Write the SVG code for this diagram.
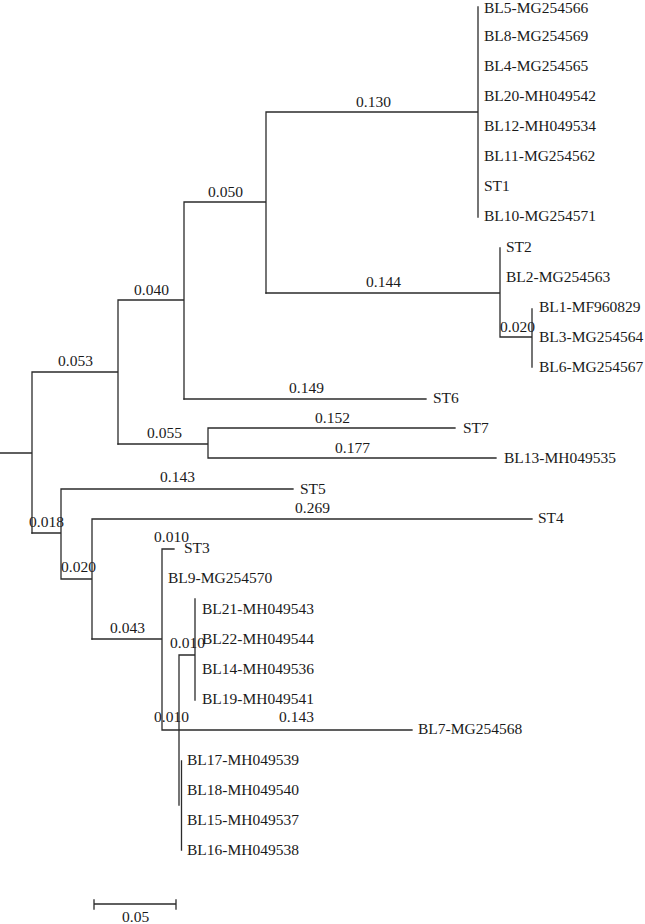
<svg xmlns="http://www.w3.org/2000/svg" width="645" height="924" viewBox="0 0 645 924">
<style>
.e{fill:none;stroke:#2b2b2b;stroke-width:1.3;stroke-linecap:square}
text{font-family:"Liberation Serif","Times New Roman",serif;font-size:15.5px;fill:#1a1a1a}
</style>
<rect width="645" height="924" fill="#fff"/>
<g id="connectors" class="e">
<path d="M0 453H32M32 372V533M32 372H118M118 300V444M118 300H184M184 202V399M184 202H266M266 112V293M266 112H478M478 7V217"/>
<path d="M266 293H500M500 248V337M500 337H532M532 309V367"/>
<path d="M184 399H426"/>
<path d="M118 444H208M208 428V458M208 428H455M208 458H496"/>
<path d="M32 533H61M61 489V579M61 489H293M61 579H92M92 519V639M92 519H532"/>
<path d="M92 639H162M162 549V730M162 549H174M162 730H412"/>
<path d="M179 655V805M179 655H195M195 599V700M181.5 761V850"/>
</g>
<g id="branch-labels">
<text x="356" y="107">0.130</text>
<text x="208" y="197">0.050</text>
<text x="134" y="295">0.040</text>
<text x="366" y="287">0.144</text>
<text x="500" y="332">0.020</text>
<text x="58" y="366">0.053</text>
<text x="289" y="393">0.149</text>
<text x="147" y="438">0.055</text>
<text x="315" y="423">0.152</text>
<text x="335" y="453">0.177</text>
<text x="160" y="482">0.143</text>
<text x="295" y="513">0.269</text>
<text x="29" y="527">0.018</text>
<text x="61" y="572">0.020</text>
<text x="154" y="542">0.010</text>
<text x="110" y="633">0.043</text>
<text x="170" y="648">0.010</text>
<text x="154" y="722">0.010</text>
<text x="279" y="722">0.143</text>
</g>
<g id="leaf-BL5"><text x="484" y="12.5">BL5-MG254566</text></g>
<g id="leaf-BL8"><text x="484" y="41">BL8-MG254569</text></g>
<g id="leaf-BL4"><text x="484" y="71">BL4-MG254565</text></g>
<g id="leaf-BL20"><text x="484" y="101">BL20-MH049542</text></g>
<g id="leaf-BL12"><text x="484" y="131">BL12-MH049534</text></g>
<g id="leaf-BL11"><text x="484" y="161">BL11-MG254562</text></g>
<g id="leaf-ST1"><text x="484" y="191">ST1</text></g>
<g id="leaf-BL10"><text x="484" y="221">BL10-MG254571</text></g>
<g id="leaf-ST2"><text x="506" y="252">ST2</text></g>
<g id="leaf-BL2"><text x="506" y="282">BL2-MG254563</text></g>
<g id="leaf-BL1"><text x="539" y="312">BL1-MF960829</text></g>
<g id="leaf-BL3"><text x="539" y="342">BL3-MG254564</text></g>
<g id="leaf-BL6"><text x="539" y="372">BL6-MG254567</text></g>
<g id="leaf-ST6"><text x="433" y="403">ST6</text></g>
<g id="leaf-ST7"><text x="463" y="433">ST7</text></g>
<g id="leaf-BL13"><text x="504" y="463">BL13-MH049535</text></g>
<g id="leaf-ST5"><text x="300" y="494">ST5</text></g>
<g id="leaf-ST4"><text x="538" y="523">ST4</text></g>
<g id="leaf-ST3"><text x="184" y="553">ST3</text></g>
<g id="leaf-BL9"><text x="168" y="583">BL9-MG254570</text></g>
<g id="leaf-BL21"><text x="202" y="614">BL21-MH049543</text></g>
<g id="leaf-BL22"><text x="202" y="644">BL22-MH049544</text></g>
<g id="leaf-BL14"><text x="202" y="674">BL14-MH049536</text></g>
<g id="leaf-BL19"><text x="202" y="704">BL19-MH049541</text></g>
<g id="leaf-BL7"><text x="418" y="734">BL7-MG254568</text></g>
<g id="leaf-BL17"><text x="187" y="765">BL17-MH049539</text></g>
<g id="leaf-BL18"><text x="187" y="795">BL18-MH049540</text></g>
<g id="leaf-BL15"><text x="187" y="825">BL15-MH049537</text></g>
<g id="leaf-BL16"><text x="187" y="855">BL16-MH049538</text></g>
<g id="scale-bar">
<path class="e" d="M94 904H176M94 900V909M176 900V909"/>
<text x="122" y="922">0.05</text>
</g>
</svg>
